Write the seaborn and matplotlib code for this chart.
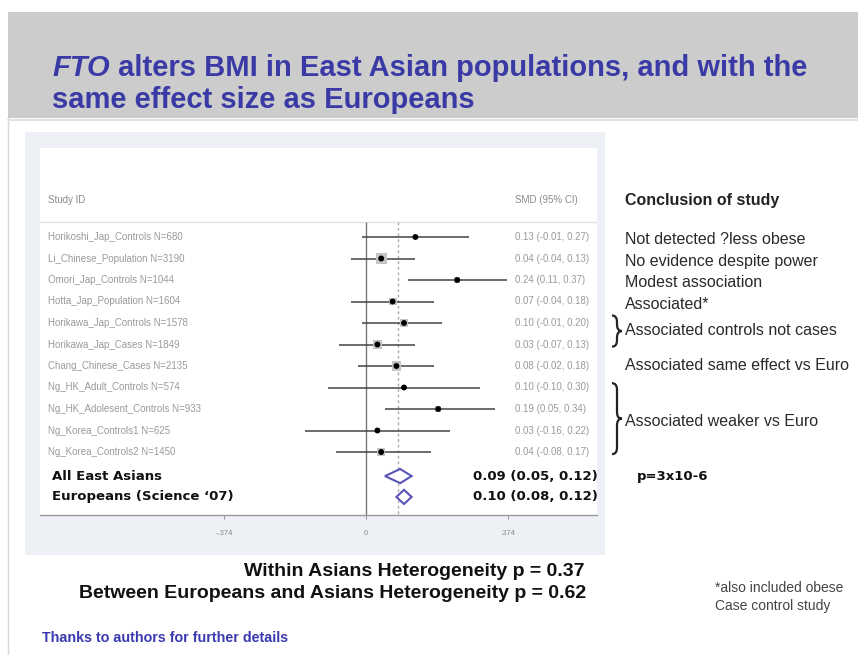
import matplotlib
matplotlib.use("Agg")
import matplotlib.pyplot as plt
import seaborn as sns
import numpy as np
from matplotlib.patches import Rectangle
from matplotlib.path import Path
from matplotlib.patches import PathPatch
from matplotlib.transforms import blended_transform_factory

# data
studies = ["Horikoshi_Jap_Controls", "Li_Chinese_Population", "Omori_Jap_Controls",
           "Hotta_Jap_Population", "Horikawa_Jap_Controls", "Horikawa_Jap_Cases",
           "Chang_Chinese_Cases", "Ng_HK_Adult_Controls", "Ng_HK_Adolesent_Controls",
           "Ng_Korea_Controls1", "Ng_Korea_Controls2"]
n_subjects = [680, 3190, 1044, 1604, 1578, 1849, 2135, 574, 933, 625, 1450]
smd = [0.13, 0.04, 0.24, 0.07, 0.10, 0.03, 0.08, 0.10, 0.19, 0.03, 0.04]
ci_low = [-0.01, -0.04, 0.11, -0.04, -0.01, -0.07, -0.02, -0.10, 0.05, -0.16, -0.08]
ci_high = [0.27, 0.13, 0.37, 0.18, 0.20, 0.13, 0.18, 0.30, 0.34, 0.22, 0.17]

summary_labels = ["All East Asians", "Europeans (Science \u201807)"]
summary_smd = [0.09, 0.10]
summary_low = [0.05, 0.08]
summary_high = [0.12, 0.12]
overall_line = 0.083

xtick_vals = [-0.374, 0, 0.374]
xtick_labels = ["-.374", "0", ".374"]

conclusions = ["Not detected ?less obese", "No evidence despite power",
               "Modest association", "Associated*"]
group_notes = ["Associated controls not cases", "Associated same effect vs Euro",
               "Associated weaker vs Euro"]

sns.set_style("white")
plt.rcParams['font.family'] = ['Liberation Sans', 'DejaVu Sans']

W, H = 858, 655
fig = plt.figure(figsize=(W / 100, H / 100), dpi=100)


def px(x):
    return x / W


def py(y):
    return 1 - y / H


# slide header band
fig.patches.append(Rectangle((px(8), py(118)), px(850), 106 / H, transform=fig.transFigure,
                             facecolor="#cccccc", edgecolor="none", zorder=-5))
fig.lines.append(plt.Line2D([px(8), px(8)], [py(118), py(655)], transform=fig.transFigure,
                            color="#d8d8d8", lw=1, zorder=-4))
fig.lines.append(plt.Line2D([px(8), px(858)], [py(120), py(120)], transform=fig.transFigure,
                            color="#e2e2e2", lw=1.5, zorder=-4))

# title with italic gene name
title_col = "#3a3aa6"
renderer = fig.canvas.get_renderer()
t1 = fig.text(px(52), py(76), "FTO", fontsize=21, fontweight="bold", style="italic",
              color=title_col, va="baseline")
bb = t1.get_window_extent(renderer)
fig.text(px(52) + bb.width / W, py(76), " alters BMI in East Asian populations, and with the",
         fontsize=21, fontweight="bold", color=title_col, va="baseline")
fig.text(px(52), py(108), "same effect size as Europeans", fontsize=21, fontweight="bold",
         color=title_col, va="baseline")

# light panel behind the forest plot
fig.patches.append(Rectangle((px(25), py(555)), px(580), 423 / H, transform=fig.transFigure,
                             facecolor="#edf1f6", edgecolor="none", zorder=-5))

# forest axes: x=0 at pixel 366, 380 px per unit; rows 21.5 px apart starting at 237
ax = fig.add_axes([px(40), py(515), px(557), 367 / H])
x_left = (40 - 366) / 380
x_right = (597 - 366) / 380
r_top = 1 + (148 - 237) / 21.5
r_bot = 1 + (515 - 237) / 21.5
ax.set_xlim(x_left, x_right)
ax.set_ylim(r_bot, r_top)
ax.set_facecolor("white")

rows = np.arange(1, len(studies) + 1)
sum_rows = [12.12, 13.09]
head_row = 1 + (200 - 237) / 21.5
sep_row = 1 + (222 - 237) / 21.5

ax.axhline(sep_row, color="#e4e4e4", lw=1)
ax.vlines(0, sep_row, r_bot, color="#777777", lw=1)
ax.vlines(overall_line, sep_row, r_bot, color="#aaaaaa", lw=1, linestyles=(0, (2, 2)))

ax.hlines(rows, ci_low, ci_high, color="#444444", lw=1.1, zorder=3)
sns.scatterplot(x=smd, y=rows, size=n_subjects, sizes=(10, 65), marker="s",
                color="#c4c4c4", edgecolor="none", legend=False, ax=ax, zorder=4)
sns.scatterplot(x=smd, y=rows, s=18, color="black", edgecolor="none", legend=False,
                ax=ax, zorder=5)

for r, est, lo, hi in zip(sum_rows, summary_smd, summary_low, summary_high):
    h = 0.33
    ax.fill([lo, est, hi, est, lo], [r, r - h, r, r + h, r], facecolor="white",
            edgecolor="#5a55b5", lw=1.5, zorder=5)

ax.set_xticks(xtick_vals)
ax.set_xticklabels(xtick_labels, fontsize=5.5, color="#888888")
ax.set_yticks([])
ax.tick_params(axis="x", direction="out", length=3, color="#999999", pad=8, bottom=True)
for s in ["top", "left", "right"]:
    ax.spines[s].set_visible(False)
ax.spines["bottom"].set_color("#999999")
ax.spines["bottom"].set_linewidth(1)

# text columns tied to rows
tr = blended_transform_factory(fig.transFigure, ax.transData)
ax.text(px(48), head_row, "Study ID", transform=tr, fontsize=7, color="#8a8a8a", va="center")
ax.text(px(515), head_row, "SMD (95% CI)", transform=tr, fontsize=7, color="#8a8a8a", va="center")
for r, name, n, est, lo, hi in zip(rows, studies, n_subjects, smd, ci_low, ci_high):
    ax.text(px(48), r, f"{name} N={n}", transform=tr, fontsize=7, color="#9a9a9a", va="center")
    ax.text(px(515), r, f"{est:.2f} ({lo:.2f}, {hi:.2f})", transform=tr, fontsize=7,
            color="#9a9a9a", va="center")
for r, lab, est, lo, hi in zip(sum_rows, summary_labels, summary_smd, summary_low, summary_high):
    ax.text(px(52), r, lab, transform=tr, fontsize=9.5, fontweight="bold",
            family="DejaVu Sans", color="#111111", va="center")
    ax.text(px(598), r, f"{est:.2f} ({lo:.2f}, {hi:.2f})", transform=tr, fontsize=9.5,
            fontweight="bold", family="DejaVu Sans", color="#111111", va="center", ha="right")
ax.text(px(637), sum_rows[0], "p=3x10-6", transform=tr, fontsize=9.5, fontweight="bold",
        family="DejaVu Sans", color="#111111", va="center")

# conclusions column
ax.text(px(625), head_row, "Conclusion of study", transform=tr, fontsize=11.5,
        fontweight="bold", color="#222222", va="center")
for r, txt in zip(rows[:4], conclusions):
    ax.text(px(625), r + 0.12, txt, transform=tr, fontsize=11.5, color="#2a2a2a", va="center")
ax.text(px(625), 5.35, group_notes[0], transform=tr, fontsize=11.5, color="#2a2a2a", va="center")
ax.text(px(625), 7.0, group_notes[1], transform=tr, fontsize=11.5, color="#2a2a2a", va="center")
ax.text(px(625), 9.6, group_notes[2], transform=tr, fontsize=11.5, color="#2a2a2a", va="center")


def brace(y0, y1, x0=px(612), x1=px(622)):
    xm = (x0 + x1) / 2
    ym = (y0 + y1) / 2
    verts = [(x0, y0), (xm, y0), (xm, y0 + 0.3), (xm, ym - 0.3), (xm, ym), (x1, ym),
             (xm, ym), (xm, ym + 0.3), (xm, y1 - 0.3), (xm, y1), (x0, y1)]
    codes = [Path.MOVETO, Path.CURVE3, Path.CURVE3, Path.LINETO, Path.CURVE3, Path.CURVE3,
             Path.CURVE3, Path.CURVE3, Path.LINETO, Path.CURVE3, Path.CURVE3]
    p = PathPatch(Path(verts, codes), transform=tr, facecolor="none", edgecolor="#222222",
                  lw=1.6, clip_on=False)
    ax.add_patch(p)


brace(4.65, 6.1)
brace(7.8, 11.1)

# heterogeneity and notes
fig.text(px(585), py(572), "Within Asians Heterogeneity p = 0.37", fontsize=14,
         fontweight="bold", ha="right", va="center", color="#111111")
fig.text(px(586), py(593), "Between Europeans and Asians Heterogeneity p = 0.62", fontsize=14,
         fontweight="bold", ha="right", va="center", color="#111111")
fig.text(px(715), py(588), "*also included obese", fontsize=10, color="#444444", va="center")
fig.text(px(715), py(606), "Case control study", fontsize=10, color="#444444", va="center")
fig.text(px(42), py(638), "Thanks to authors for further details", fontsize=10.3,
         fontweight="bold", color="#3a3ab0", va="center")

fig.savefig("out.png", dpi=100)
